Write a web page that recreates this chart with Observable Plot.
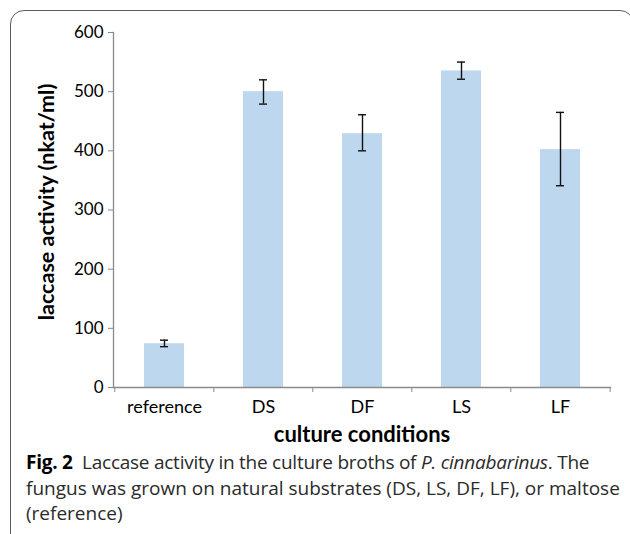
<!DOCTYPE html>
<html>
<head>
<meta charset="utf-8">
<script src="https://cdn.jsdelivr.net/npm/d3@7"></script>
<script src="https://cdn.jsdelivr.net/npm/@observablehq/plot@0.6"></script>
<style>
  html, body { margin: 0; padding: 0; background: #fff; }
  body { width: 630px; height: 534px; position: relative; overflow: hidden; }
  #frame { position: absolute; left: 10px; top: 10px; width: 624px; height: 620px;
           box-sizing: border-box; border: 1.5px solid #5a5a5a; border-radius: 14px; }
  #chart { position: absolute; left: 0; top: 0; }
  #chart svg { font-family: Lato, "Open Sans", sans-serif; }
  #caption { position: absolute; left: 26px; top: 450px; font-family: "Open Sans", sans-serif;
             font-size: 19px; line-height: 25.5px; color: #2a2a2a; white-space: nowrap; }
  #caption b { color: #000; }
  #caption .l1 { letter-spacing: -0.25px; }
</style>
</head>
<body>
<div id="frame"></div>
<div id="chart"></div>
<div id="caption">
  <span class="l1"><b>Fig. 2</b>&nbsp; Laccase activity in the culture broths of <i>P. cinnabarinus</i>. The</span><br>
  fungus was grown on natural substrates (DS, LS, DF, LF), or maltose<br>
  (reference)
</div>
<script>
const conditions = ["reference", "DS", "DF", "LS", "LF"];
const activity   = [74, 500, 429, 535, 402];
const errLow     = [69, 479, 400, 521, 341];
const errHigh    = [80, 520, 461, 550, 465];
const yTicks     = [0, 100, 200, 300, 400, 500, 600];

const data = conditions.map((c, i) => ({cond: c, value: activity[i], lo: errLow[i], hi: errHigh[i]}));

const W = 630, H = 450, mL = 113, mR = 20, mT = 32, mB = 63;
const step = (W - mL - mR) / conditions.length;

const chart = Plot.plot({
  width: W, height: H,
  marginLeft: mL, marginRight: mR, marginTop: mT, marginBottom: mB,
  style: {fontSize: "17.5px", color: "#000", background: "transparent"},
  x: {domain: conditions, paddingInner: 0.6, paddingOuter: 0.3, label: null},
  y: {domain: [0, 600], label: null},
  marks: [
    Plot.barY(data, {x: "cond", y: "value", fill: "#BDD7EE"}),
    Plot.ruleX(data, {x: "cond", y1: "lo", y2: "hi", stroke: "#111", strokeWidth: 1.4}),
    Plot.tickY(data, {x: "cond", y: "lo", stroke: "#111", strokeWidth: 1.4, insetLeft: 16, insetRight: 16}),
    Plot.tickY(data, {x: "cond", y: "hi", stroke: "#111", strokeWidth: 1.4, insetLeft: 16, insetRight: 16}),
    Plot.frame({anchor: "left", stroke: "#8a8a8a", strokeWidth: 1.3}),
    Plot.frame({anchor: "bottom", stroke: "#8a8a8a", strokeWidth: 1.3}),
    Plot.axisY({ticks: yTicks, tickSize: 5, tickPadding: 5, stroke: "#8a8a8a", label: null, tickFormat: d3.format("d"), fontSize: 17}),
    Plot.axisX({tickSize: 5, tickFormat: () => "", dx: -step / 2, stroke: "#8a8a8a", label: null}),
    Plot.axisX({ticks: [conditions[conditions.length - 1]], tickSize: 5, tickFormat: () => "", dx: step / 2, stroke: "#8a8a8a", label: null}),
    Plot.axisX({tickSize: 0, tickPadding: 13, label: null, fontSize: 18}),
    Plot.text(["culture conditions"], {frameAnchor: "bottom", dy: 54, fontSize: 22, fontWeight: "bold", fill: "#000"}),
    Plot.text(["laccase activity (nkat/ml)"], {frameAnchor: "left", textAnchor: "middle", dx: -66, dy: -8, rotate: -90, fontSize: 21.5, fontWeight: "bold", fill: "#000"})
  ]
});
document.getElementById("chart").appendChild(chart);
</script>
</body>
</html>
